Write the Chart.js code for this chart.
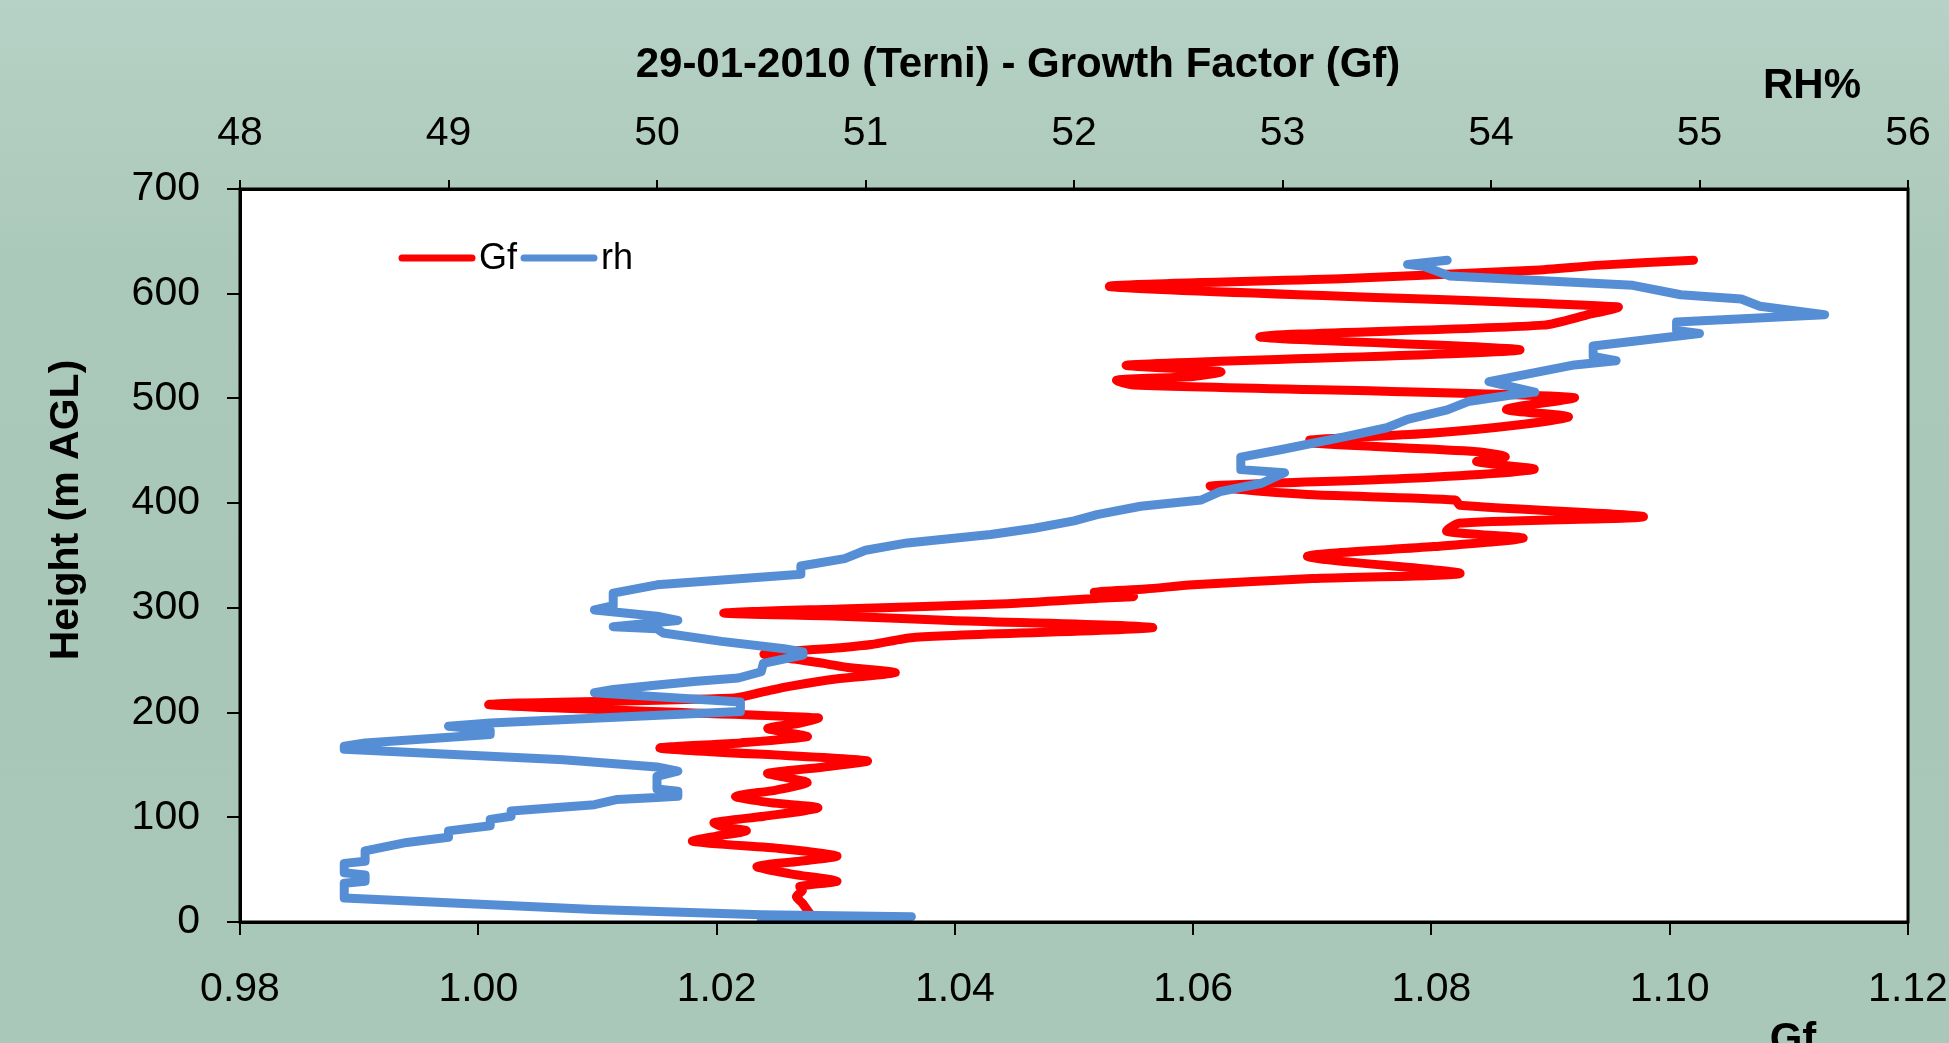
<!DOCTYPE html>
<html>
<head>
<meta charset="utf-8">
<title>Growth Factor profile</title>
<script src="https://cdn.jsdelivr.net/npm/chart.js@4.4.1/dist/chart.umd.min.js"></script>
<style>
  html, body { margin: 0; padding: 0; overflow: hidden; }
  body {
    width: 1949px; height: 1043px;
    background: linear-gradient(180deg, #b6d1c5 0%, #abc9bb 25%, #a8c7b9 60%, #a9c8ba 100%);
  }
  #wrap { position: relative; width: 1949px; height: 1043px; }
</style>
</head>
<body>
<div id="wrap"><canvas id="gf-chart"></canvas></div>
<script>
// Gf profile (bottom axis) vs height
const gfHeights = [0, 5, 10, 18, 24, 30, 34, 39, 46, 53, 58, 63, 70, 77, 82, 87, 91, 95, 101, 109,
  114, 120, 126, 133, 138, 142, 148, 154, 166, 171, 177, 181, 185, 190, 195, 207.5, 214, 220, 225,
  232, 238, 243, 247, 251, 256, 262, 265, 272, 281, 288, 292, 295, 299, 304, 309, 311, 315, 318,
  322, 328, 333, 349, 358.5, 366.5, 373, 381, 387, 398, 403, 408, 412.6, 416.4, 423.7, 432.3,
  439.6, 444.4, 449.2, 457.1, 460.3, 466.7, 474.6, 482.5, 489.6, 501, 512.8, 517.5, 521, 525.5,
  531.9, 546.2, 558.9, 570, 579.6, 587.5, 606.6, 614.5, 622.5, 627.3, 632];
const gfValues = [1.0276, 1.0280, 1.0277, 1.0272, 1.0267, 1.0272, 1.0270, 1.0301, 1.0262, 1.0234,
  1.0270, 1.0301, 1.0255, 1.0180, 1.0200, 1.0225, 1.0205, 1.0198, 1.0240, 1.0285,
  1.0245, 1.0216, 1.0250, 1.0276, 1.0258, 1.0243, 1.0290, 1.0326, 1.0153, 1.0220, 1.0276, 1.0258,
  1.0243, 1.0270, 1.0285, 1.0009, 1.0215, 1.0240, 1.0261,
  1.0300, 1.0350, 1.0310, 1.0290, 1.0265, 1.0240, 1.0304, 1.0330, 1.0367, 1.0566, 1.0396, 1.0304,
  1.0206, 1.0304, 1.0444, 1.0519, 1.0550, 1.0517, 1.0560,
  1.0600, 1.0700, 1.0824, 1.0696, 1.0802, 1.0877, 1.0813, 1.0824, 1.0978, 1.0824, 1.0820, 1.0701,
  1.0645, 1.0615, 1.0782, 1.0886,
  1.0838, 1.0862, 1.0838, 1.0701, 1.0698, 1.0799, 1.0872, 1.0915, 1.0863, 1.0919, 1.0550, 1.0536,
  1.0600, 1.0623,
  1.0545, 1.0874, 1.0656, 1.0894, 1.0930, 1.0956, 1.0531, 1.0729, 1.0886, 1.0942, 1.1020];

// relative humidity profile (top axis) vs height
const rhHeights = [1, 5, 7, 12, 23, 37, 39, 45, 47, 56, 58, 68, 72, 76, 81, 87, 92, 98, 101, 106,
  112, 117, 119, 120, 125, 127, 139, 144, 148, 155, 165, 168, 171, 179, 183, 187, 190, 201, 210,
  219, 222, 226, 230, 233, 239, 247, 255, 258, 261, 268, 276, 280, 282, 288, 292, 298, 302, 314,
  322, 332, 340, 347, 355, 362, 370, 376, 383, 389, 397, 403, 411, 419, 429, 432, 444, 451, 463,
  472, 480, 489, 497, 503, 506, 516, 532, 536, 540, 550, 562, 565, 573, 580, 588, 595, 599, 608,
  617, 626, 628, 632];
const rhValues = [50.50, 51.22, 50.50, 49.70, 48.50, 48.50, 48.60, 48.60, 48.50, 48.50, 48.60, 48.60,
  48.70, 48.80, 49.00, 49.00, 49.20, 49.20, 49.30, 49.30,
  49.70, 49.81, 50.00, 50.10, 50.10, 50.00, 50.00, 50.10, 50.00, 49.55, 48.50, 48.50, 48.60, 49.20,
  49.20, 49.00, 49.20, 50.40, 50.40,
  49.70, 49.79, 49.99, 50.19, 50.39, 50.50, 50.51, 50.70, 50.70, 50.61, 50.31, 50.03, 50.00, 49.79,
  50.10, 50.00, 49.70, 49.79, 49.79,
  50.00, 50.69, 50.69, 50.90, 51.00, 51.20, 51.60, 51.81, 52.00, 52.11, 52.32, 52.61, 52.70, 52.90,
  53.01, 52.80, 52.80, 52.99, 53.29,
  53.50, 53.60, 53.79, 53.89, 54.09, 54.21, 53.99, 54.40, 54.60, 54.49, 54.49, 55.00, 54.89, 54.89,
  55.60, 55.29, 55.20, 54.91, 54.68,
  53.80, 53.68, 53.60, 53.79];

const gfTicks = [0.98, 1.00, 1.02, 1.04, 1.06, 1.08, 1.10, 1.12];
const rhTicks = [48, 49, 50, 51, 52, 53, 54, 55, 56];
const heightTicks = [0, 100, 200, 300, 400, 500, 600, 700];

const gfPoints = gfValues.map((v, i) => ({ x: v, y: gfHeights[i] }));
const rhPoints = rhValues.map((v, i) => ({ x: v, y: rhHeights[i] }));

const FONT = "'Liberation Sans', Arial, sans-serif";
const tickFont = { family: FONT, size: 41 };

// white plot area, frame, titles and the small legend inside the plot
const framePlugin = {
  id: "frame",
  beforeDraw(chart) {
    const a = chart.chartArea, c = chart.ctx;
    c.save();
    c.fillStyle = "#ffffff";
    c.fillRect(a.left, a.top, a.right - a.left, a.bottom - a.top);
    c.restore();
  },
  afterDraw(chart) {
    const a = chart.chartArea, c = chart.ctx;
    c.save();
    c.strokeStyle = "#000";
    c.lineWidth = 3;
    c.strokeRect(a.left, a.top, a.right - a.left, a.bottom - a.top);

    c.fillStyle = "#000";
    c.font = "bold 42px " + FONT;
    c.textBaseline = "alphabetic";
    c.textAlign = "center";
    c.fillText("29-01-2010 (Terni) - Growth Factor (Gf)", 1018, 77);
    c.fillText("RH%", 1812, 98);
    c.fillText("Gf", 1793, 1052);

    c.font = "bold 41px " + FONT;
    c.translate(78, 510);
    c.rotate(-Math.PI / 2);
    c.fillText("Height (m AGL)", 0, 0);
    c.restore();

    // legend
    c.save();
    c.lineCap = "round";
    c.lineWidth = 7;
    c.font = "36px 'Liberation Sans Narrow', 'Liberation Sans', sans-serif";
    c.textBaseline = "alphabetic";
    c.textAlign = "left";
    let x = a.left + 162;
    const y = 258;
    chart.data.datasets.forEach(ds => {
      c.strokeStyle = ds.borderColor;
      c.beginPath();
      c.moveTo(x, y);
      c.lineTo(x + 70, y);
      c.stroke();
      c.fillStyle = "#000";
      c.fillText(ds.label, x + 77, y + 11);
      x += 77 + c.measureText(ds.label).width + 7;
    });
    c.restore();
  }
};

const noSidePadding = s => { s.paddingLeft = 0; s.paddingRight = 0; };

const config = {
  type: "scatter",
  data: {
    datasets: [
      {
        label: "Gf",
        data: gfPoints,
        xAxisID: "x",
        yAxisID: "y",
        showLine: true,
        borderColor: "#ff0000",
        borderWidth: 9,
        pointRadius: 0,
        tension: 0.25,
        borderJoinStyle: "round",
        borderCapStyle: "round",
        order: 2,
      },
      {
        label: "rh",
        data: rhPoints,
        xAxisID: "x2",
        yAxisID: "y",
        showLine: true,
        borderColor: "#558ed5",
        borderWidth: 9,
        pointRadius: 0,
        tension: 0,
        borderJoinStyle: "round",
        borderCapStyle: "round",
        order: 1,
      },
    ],
  },
  options: {
    responsive: true,
    maintainAspectRatio: false,
    animation: false,
    layout: { padding: { right: 41, left: 0, top: 0, bottom: 0 } },
    plugins: {
      legend: { display: false },
      title: { display: false },
      tooltip: { enabled: false },
    },
    scales: {
      x: {
        type: "linear",
        position: "bottom",
        min: 0.98,
        max: 1.12,
        afterBuildTicks: s => { s.ticks = gfTicks.map(v => ({ value: v })); },
        afterFit: s => { s.height = 121; noSidePadding(s); },
        ticks: { font: tickFont, color: "#000", padding: 30, maxRotation: 0,
          callback: v => Number(v).toFixed(2) },
        grid: { drawOnChartArea: false, tickLength: 13, color: "#000", lineWidth: 2 },
        border: { color: "#000", width: 3 },
      },
      x2: {
        type: "linear",
        position: "top",
        min: 48,
        max: 56,
        afterBuildTicks: s => { s.ticks = rhTicks.map(v => ({ value: v })); },
        afterFit: s => { s.height = 189; noSidePadding(s); },
        ticks: { font: tickFont, color: "#000", padding: 22, maxRotation: 0 },
        grid: { drawOnChartArea: false, tickLength: 9, color: "#000", lineWidth: 2 },
        border: { color: "#000", width: 3 },
      },
      y: {
        type: "linear",
        min: 0,
        max: 700,
        afterBuildTicks: s => { s.ticks = heightTicks.map(v => ({ value: v })); },
        afterFit: s => { s.width = 240; s.paddingTop = 0; s.paddingBottom = 0; },
        ticks: { font: tickFont, color: "#000", padding: 27 },
        grid: { drawOnChartArea: false, tickLength: 13, color: "#000", lineWidth: 2 },
        border: { color: "#000", width: 3 },
      },
    },
  },
  plugins: [framePlugin],
};

var ctx_gf = document.getElementById("gf-chart").getContext("2d");
var gfChart = new Chart(ctx_gf, config);
</script>
</body>
</html>
